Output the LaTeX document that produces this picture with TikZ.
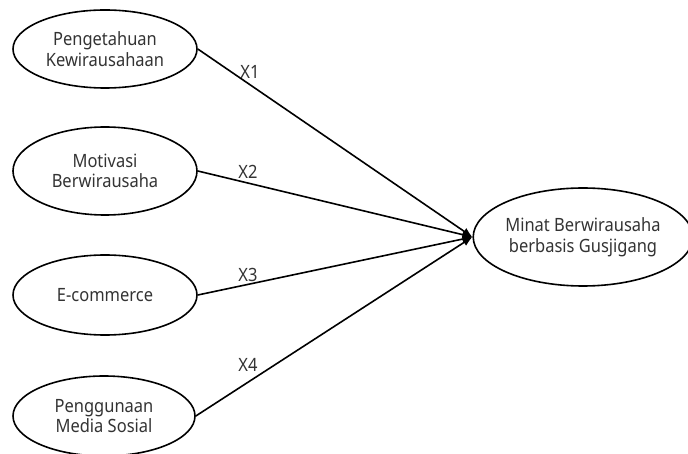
\documentclass[tikz,border=0pt]{standalone}
\usepackage{fontspec}
\setmainfont{Noto Sans}[FakeStretch=0.9]
\usetikzlibrary{shapes.geometric,arrows.meta}
\begin{document}
\begin{tikzpicture}[x=1pt,y=-1pt,
  construct/.style={ellipse,draw=black,line width=1.6pt,inner sep=0pt,align=center,
    font=\fontsize{18.3}{20.5}\selectfont,text=black!80},
  path/.style={line width=1.6pt,-{Latex[length=10pt,width=8pt]}},
  lbl/.style={font=\fontsize{18.3}{20.5}\selectfont,text=black!80,inner sep=0pt}]
\useasboundingbox (0,0) rectangle (688,454);
\node[construct,minimum width=184pt,minimum height=78pt] (k) at (105,49) {Pengetahuan\\Kewirausahaan};
\node[construct,minimum width=184pt,minimum height=88pt] (m) at (105,171) {Motivasi\\Berwirausaha};
\node[construct,minimum width=184pt,minimum height=80pt] (e) at (105,295) {E-commerce};
\node[construct,minimum width=182pt,minimum height=80pt] (s) at (104,416) {Penggunaan\\Media Sosial};
\node[construct,minimum width=210pt,minimum height=98pt] (t) at (583,237) {Minat Berwirausaha\\berbasis Gusjigang};
\draw[path] (k.east) -- (t.west);
\draw[path] (m.east) -- (t.west);
\draw[path] (e.east) -- (t.west);
\draw[path] (s.east) -- (t.west);
\node[lbl] (x1) at (250,72) {X1};
\node[lbl] (x2) at (248,172) {X2};
\node[lbl] (x3) at (248,275) {X3};
\node[lbl] (x4) at (248,365) {X4};
\end{tikzpicture}
\end{document}
